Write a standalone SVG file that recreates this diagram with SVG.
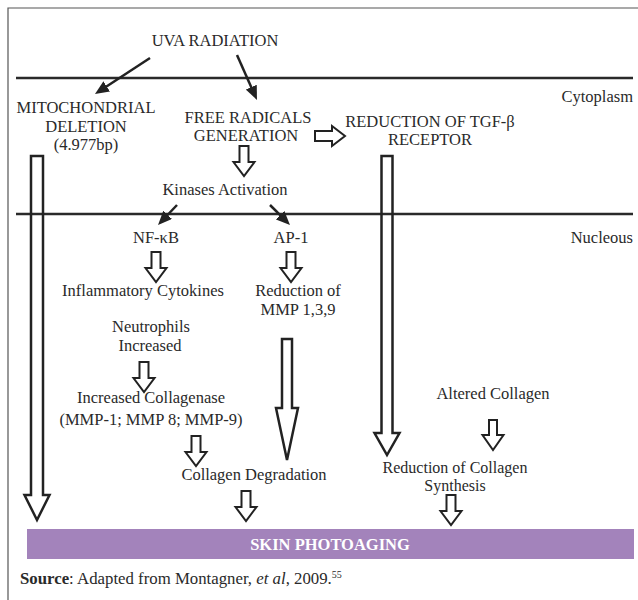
<svg xmlns="http://www.w3.org/2000/svg" width="638" height="600" viewBox="0 0 638 600">
<style>
  .t { font-family: "Liberation Serif", "Times New Roman", serif; font-size: 16.5px; fill: #2a2a2a; text-anchor: middle; }
  .r { text-anchor: end; }
  .sep { stroke: #2a2a2a; stroke-width: 2.5; }
  .frame { stroke: #555; stroke-width: 1.2; fill: none; }
  .solid { stroke: #222; stroke-width: 2.5; fill: none; marker-end: url(#head); }
  .hollow { fill: #fff; stroke: #222; stroke-width: 2; stroke-linejoin: miter; }
  .long { fill: none; stroke: #222; stroke-width: 2.5; stroke-linejoin: miter; }
</style>
<defs>
  <marker id="head" markerUnits="userSpaceOnUse" markerWidth="14" markerHeight="12" refX="3" refY="6" orient="auto">
    <path d="M0,0 L14,6 L0,12 z" fill="#222"/>
  </marker>
</defs>
<rect width="638" height="600" fill="#fff"/>
<path class="frame" d="M8,600 L8,8 L638,8"/>
<g id="compartments">
  <line class="sep" x1="16" y1="78" x2="633" y2="78"/>
  <line class="sep" x1="16" y1="214" x2="633" y2="214"/>
  <text class="t r" x="633" y="102">Cytoplasm</text>
  <text class="t r" x="633" y="243">Nucleous</text>
</g>
<g id="connectors">
  <line class="solid" x1="150" y1="58" x2="104.2" y2="88"/>
  <line class="solid" x1="237" y1="55" x2="252.5" y2="89.9"/>
  <line class="solid" x1="177" y1="205" x2="165.6" y2="217"/>
  <line class="solid" x1="270" y1="205" x2="282.2" y2="217.2"/>
  <path class="hollow" d="M239.5,146 L248.5,146 L248.5,162 L254.5,162 L244,176 L233.5,162 L239.5,162 Z"/>
  <path class="hollow" d="M315,131 L332,131 L332,126 L345,136 L332,146 L332,141 L315,141 Z"/>
  <path class="hollow" d="M151.5,252 L160.5,252 L160.5,268 L166.5,268 L156,282 L145.5,268 L151.5,268 Z"/>
  <path class="hollow" d="M286.5,252 L295.5,252 L295.5,268 L301.5,268 L291,282 L280.5,268 L286.5,268 Z"/>
  <path class="hollow" d="M139.5,362 L148.5,362 L148.5,378 L154.5,378 L144,392 L133.5,378 L139.5,378 Z"/>
  <path class="hollow" d="M191.5,436 L200.5,436 L200.5,452 L206.5,452 L196,466 L185.5,452 L191.5,452 Z"/>
  <path class="hollow" d="M241.5,491 L250.5,491 L250.5,507 L256.5,507 L246,521 L235.5,507 L241.5,507 Z"/>
  <path class="hollow" d="M489,420 L497,420 L497,435 L503.5,435 L493,450 L482.5,435 L489,435 Z"/>
  <path class="hollow" d="M446.5,495 L455.5,495 L455.5,511 L461.5,511 L451,525 L440.5,511 L446.5,511 Z"/>
  <path class="long" d="M31,156 L43,156 L43,495 L49.5,495 L37,520 L24.5,495 L31,495 Z"/>
  <path class="long" d="M381.5,156 L392.5,156 L392.5,433 L399.5,433 L387,455 L374.5,433 L381.5,433 Z"/>
  <path class="long" d="M282,339 L292,339 L292,408 L298,408 L287,460 L276,408 L282,408 Z"/>
</g>
<g id="uva"><text class="t" x="215" y="46">UVA RADIATION</text></g>
<g id="mito">
  <text class="t" x="86" y="113">MITOCHONDRIAL</text>
  <text class="t" x="86" y="132">DELETION</text>
  <text class="t" x="86" y="150">(4.977bp)</text>
</g>
<g id="radicals">
  <text class="t" x="248" y="123">FREE RADICALS</text>
  <text class="t" x="246" y="141">GENERATION</text>
</g>
<g id="tgf">
  <text class="t" x="430" y="127">REDUCTION OF TGF-β</text>
  <text class="t" x="430" y="145">RECEPTOR</text>
</g>
<g id="kinases"><text class="t" x="225" y="195">Kinases Activation</text></g>
<g id="nfkb"><text class="t" x="156" y="243">NF-κB</text></g>
<g id="ap1"><text class="t" x="291" y="243">AP-1</text></g>
<g id="cytokines"><text class="t" x="143" y="296">Inflammatory Cytokines</text></g>
<g id="mmp-reduction">
  <text class="t" x="298" y="296">Reduction of</text>
  <text class="t" x="298" y="315">MMP 1,3,9</text>
</g>
<g id="neutrophils">
  <text class="t" x="151" y="332">Neutrophils</text>
  <text class="t" x="150" y="351">Increased</text>
</g>
<g id="collagenase">
  <text class="t" x="151" y="403">Increased Collagenase</text>
  <text class="t" x="151" y="425">(MMP-1; MMP 8; MMP-9)</text>
</g>
<g id="degradation"><text class="t" x="254" y="480">Collagen Degradation</text></g>
<g id="altered"><text class="t" x="493" y="399">Altered Collagen</text></g>
<g id="synthesis">
  <text class="t" x="455" y="473" style="font-size:16px">Reduction of Collagen</text>
  <text class="t" x="455" y="491" style="font-size:16px">Synthesis</text>
</g>
<g id="photoaging">
  <rect x="27" y="529" width="607" height="30" fill="#a383bb"/>
  <text class="t" x="330" y="550" style="fill:#fff;font-weight:bold">SKIN PHOTOAGING</text>
</g>
<g id="source">
  <text class="t" x="20" y="584" style="text-anchor:start;font-size:16.8px"><tspan font-weight="bold">Source</tspan>: Adapted from Montagner, <tspan font-style="italic">et al</tspan>, 2009.<tspan font-size="10" dy="-6">55</tspan></text>
</g>
</svg>
